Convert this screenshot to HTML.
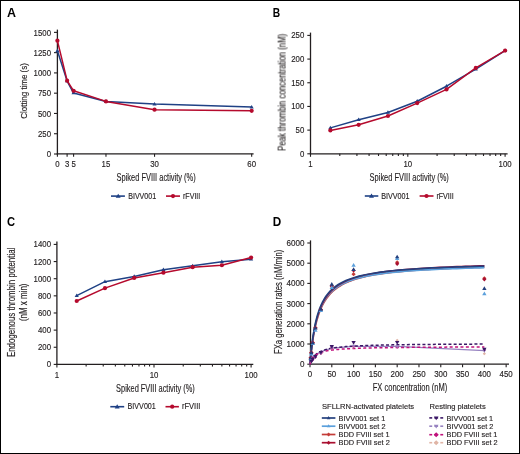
<!DOCTYPE html>
<html><head><meta charset="utf-8"><style>
html,body{margin:0;padding:0;background:#fff;width:520px;height:454px;overflow:hidden;position:relative}
svg{will-change:transform}
</style></head><body>
<svg width="520" height="454" viewBox="0 0 520 454" style="position:absolute;left:0;top:0">
<g style="font-family:'Liberation Sans', sans-serif">
<rect x="0.5" y="0.5" width="519" height="453" fill="#fff" stroke="#000" stroke-width="1"/>
<text x="7.00" y="16.90" font-size="12.4" text-anchor="start" fill="#000" font-weight="bold" textLength="9.00" lengthAdjust="spacingAndGlyphs" >A</text>
<text x="272.80" y="16.90" font-size="12.4" text-anchor="start" fill="#000" font-weight="bold" textLength="7.40" lengthAdjust="spacingAndGlyphs" >B</text>
<text x="7.10" y="226.00" font-size="12.4" text-anchor="start" fill="#000" font-weight="bold" textLength="8.10" lengthAdjust="spacingAndGlyphs" >C</text>
<text x="272.70" y="226.10" font-size="12.4" text-anchor="start" fill="#000" font-weight="bold" textLength="8.50" lengthAdjust="spacingAndGlyphs" >D</text>
<line x1="57.40" y1="29.60" x2="57.40" y2="154.40" stroke="#231f20" stroke-width="1.3" />
<line x1="56.80" y1="153.80" x2="253.60" y2="153.80" stroke="#231f20" stroke-width="1.3" />
<line x1="54.00" y1="154.00" x2="57.40" y2="154.00" stroke="#231f20" stroke-width="1.1" />
<text x="51.00" y="157.30" font-size="8.6" text-anchor="end" fill="#231f20" font-weight="normal" textLength="4.35" lengthAdjust="spacingAndGlyphs" stroke="#231f20" stroke-width="0.15" >0</text>
<line x1="54.00" y1="133.73" x2="57.40" y2="133.73" stroke="#231f20" stroke-width="1.1" />
<text x="51.00" y="137.03" font-size="8.6" text-anchor="end" fill="#231f20" font-weight="normal" textLength="13.05" lengthAdjust="spacingAndGlyphs" stroke="#231f20" stroke-width="0.15" >250</text>
<line x1="54.00" y1="113.46" x2="57.40" y2="113.46" stroke="#231f20" stroke-width="1.1" />
<text x="51.00" y="116.76" font-size="8.6" text-anchor="end" fill="#231f20" font-weight="normal" textLength="13.05" lengthAdjust="spacingAndGlyphs" stroke="#231f20" stroke-width="0.15" >500</text>
<line x1="54.00" y1="93.18" x2="57.40" y2="93.18" stroke="#231f20" stroke-width="1.1" />
<text x="51.00" y="96.48" font-size="8.6" text-anchor="end" fill="#231f20" font-weight="normal" textLength="13.05" lengthAdjust="spacingAndGlyphs" stroke="#231f20" stroke-width="0.15" >750</text>
<line x1="54.00" y1="72.91" x2="57.40" y2="72.91" stroke="#231f20" stroke-width="1.1" />
<text x="51.00" y="76.21" font-size="8.6" text-anchor="end" fill="#231f20" font-weight="normal" textLength="17.40" lengthAdjust="spacingAndGlyphs" stroke="#231f20" stroke-width="0.15" >1000</text>
<line x1="54.00" y1="52.64" x2="57.40" y2="52.64" stroke="#231f20" stroke-width="1.1" />
<text x="51.00" y="55.94" font-size="8.6" text-anchor="end" fill="#231f20" font-weight="normal" textLength="17.40" lengthAdjust="spacingAndGlyphs" stroke="#231f20" stroke-width="0.15" >1250</text>
<line x1="54.00" y1="32.37" x2="57.40" y2="32.37" stroke="#231f20" stroke-width="1.1" />
<text x="51.00" y="35.67" font-size="8.6" text-anchor="end" fill="#231f20" font-weight="normal" textLength="17.40" lengthAdjust="spacingAndGlyphs" stroke="#231f20" stroke-width="0.15" >1500</text>
<line x1="57.40" y1="153.80" x2="57.40" y2="156.80" stroke="#231f20" stroke-width="1.1" />
<text x="57.40" y="166.90" font-size="8.6" text-anchor="middle" fill="#231f20" font-weight="normal" textLength="4.35" lengthAdjust="spacingAndGlyphs" stroke="#231f20" stroke-width="0.15" >0</text>
<line x1="67.11" y1="153.80" x2="67.11" y2="156.80" stroke="#231f20" stroke-width="1.1" />
<text x="67.11" y="166.90" font-size="8.6" text-anchor="middle" fill="#231f20" font-weight="normal" textLength="4.35" lengthAdjust="spacingAndGlyphs" stroke="#231f20" stroke-width="0.15" >3</text>
<line x1="73.59" y1="153.80" x2="73.59" y2="156.80" stroke="#231f20" stroke-width="1.1" />
<text x="73.59" y="166.90" font-size="8.6" text-anchor="middle" fill="#231f20" font-weight="normal" textLength="4.35" lengthAdjust="spacingAndGlyphs" stroke="#231f20" stroke-width="0.15" >5</text>
<line x1="105.97" y1="153.80" x2="105.97" y2="156.80" stroke="#231f20" stroke-width="1.1" />
<text x="105.97" y="166.90" font-size="8.6" text-anchor="middle" fill="#231f20" font-weight="normal" textLength="8.70" lengthAdjust="spacingAndGlyphs" stroke="#231f20" stroke-width="0.15" >15</text>
<line x1="154.54" y1="153.80" x2="154.54" y2="156.80" stroke="#231f20" stroke-width="1.1" />
<text x="154.54" y="166.90" font-size="8.6" text-anchor="middle" fill="#231f20" font-weight="normal" textLength="8.70" lengthAdjust="spacingAndGlyphs" stroke="#231f20" stroke-width="0.15" >30</text>
<line x1="251.68" y1="153.80" x2="251.68" y2="156.80" stroke="#231f20" stroke-width="1.1" />
<text x="251.68" y="166.90" font-size="8.6" text-anchor="middle" fill="#231f20" font-weight="normal" textLength="8.70" lengthAdjust="spacingAndGlyphs" stroke="#231f20" stroke-width="0.15" >60</text>
<text transform="translate(26.80,90.95) rotate(-90)" x="0" y="0" font-size="9.8" text-anchor="middle" fill="#231f20" textLength="55.50" lengthAdjust="spacingAndGlyphs" stroke="#231f20" stroke-width="0.15">Clotting time (s)</text>
<text x="116.60" y="180.60" font-size="10.4" text-anchor="start" fill="#231f20" font-weight="normal" textLength="79.10" lengthAdjust="spacingAndGlyphs" stroke="#231f20" stroke-width="0.15" >Spiked FVIII activity (%)</text>
<polyline points="57.40,50.82 67.11,81.05 73.59,93.02 105.97,101.41 154.54,104.10 251.68,107.12" fill="none" stroke="#1f4185" stroke-width="1.5" stroke-linejoin="round" />
<path d="M57.40,48.62 L59.49,52.14 L55.31,52.14Z" fill="#1f4185"/>
<path d="M67.11,78.85 L69.20,82.37 L65.02,82.37Z" fill="#1f4185"/>
<path d="M73.59,90.82 L75.68,94.34 L71.50,94.34Z" fill="#1f4185"/>
<path d="M105.97,99.21 L108.06,102.73 L103.88,102.73Z" fill="#1f4185"/>
<path d="M154.54,101.90 L156.63,105.42 L152.45,105.42Z" fill="#1f4185"/>
<path d="M251.68,104.92 L253.77,108.44 L249.59,108.44Z" fill="#1f4185"/>
<polyline points="57.40,40.64 67.11,80.64 73.59,90.82 105.97,101.41 154.54,109.64 251.68,110.87" fill="none" stroke="#b50a2d" stroke-width="1.5" stroke-linejoin="round" />
<circle cx="57.40" cy="40.64" r="2.1" fill="#b50a2d"/>
<circle cx="67.11" cy="80.64" r="2.1" fill="#b50a2d"/>
<circle cx="73.59" cy="90.82" r="2.1" fill="#b50a2d"/>
<circle cx="105.97" cy="101.41" r="2.1" fill="#b50a2d"/>
<circle cx="154.54" cy="109.64" r="2.1" fill="#b50a2d"/>
<circle cx="251.68" cy="110.87" r="2.1" fill="#b50a2d"/>
<line x1="111.00" y1="196.10" x2="124.90" y2="196.10" stroke="#1f4185" stroke-width="1.6" />
<path d="M118.20,193.70 L120.67,197.86 L115.73,197.86Z" fill="#1f4185"/>
<text x="128.20" y="199.30" font-size="8.6" text-anchor="start" fill="#231f20" font-weight="normal" textLength="28.00" lengthAdjust="spacingAndGlyphs" stroke="#231f20" stroke-width="0.15" >BIVV001</text>
<line x1="166.00" y1="196.10" x2="180.00" y2="196.10" stroke="#b50a2d" stroke-width="1.6" />
<circle cx="173.00" cy="196.10" r="2.1" fill="#b50a2d"/>
<text x="183.00" y="199.30" font-size="8.6" text-anchor="start" fill="#231f20" font-weight="normal" textLength="17.30" lengthAdjust="spacingAndGlyphs" stroke="#231f20" stroke-width="0.15" >rFVIII</text>
<line x1="310.50" y1="32.60" x2="310.50" y2="154.40" stroke="#231f20" stroke-width="1.3" />
<line x1="309.90" y1="153.80" x2="507.60" y2="153.80" stroke="#231f20" stroke-width="1.3" />
<line x1="307.30" y1="153.80" x2="310.50" y2="153.80" stroke="#231f20" stroke-width="1.1" />
<text x="304.30" y="156.80" font-size="8.6" text-anchor="end" fill="#231f20" font-weight="normal" textLength="4.35" lengthAdjust="spacingAndGlyphs" stroke="#231f20" stroke-width="0.15" >0</text>
<line x1="307.30" y1="130.12" x2="310.50" y2="130.12" stroke="#231f20" stroke-width="1.1" />
<text x="304.30" y="133.12" font-size="8.6" text-anchor="end" fill="#231f20" font-weight="normal" textLength="8.70" lengthAdjust="spacingAndGlyphs" stroke="#231f20" stroke-width="0.15" >50</text>
<line x1="307.30" y1="106.44" x2="310.50" y2="106.44" stroke="#231f20" stroke-width="1.1" />
<text x="304.30" y="109.44" font-size="8.6" text-anchor="end" fill="#231f20" font-weight="normal" textLength="13.05" lengthAdjust="spacingAndGlyphs" stroke="#231f20" stroke-width="0.15" >100</text>
<line x1="307.30" y1="82.76" x2="310.50" y2="82.76" stroke="#231f20" stroke-width="1.1" />
<text x="304.30" y="85.76" font-size="8.6" text-anchor="end" fill="#231f20" font-weight="normal" textLength="13.05" lengthAdjust="spacingAndGlyphs" stroke="#231f20" stroke-width="0.15" >150</text>
<line x1="307.30" y1="59.08" x2="310.50" y2="59.08" stroke="#231f20" stroke-width="1.1" />
<text x="304.30" y="62.08" font-size="8.6" text-anchor="end" fill="#231f20" font-weight="normal" textLength="13.05" lengthAdjust="spacingAndGlyphs" stroke="#231f20" stroke-width="0.15" >200</text>
<line x1="307.30" y1="35.40" x2="310.50" y2="35.40" stroke="#231f20" stroke-width="1.1" />
<text x="304.30" y="38.40" font-size="8.6" text-anchor="end" fill="#231f20" font-weight="normal" textLength="13.05" lengthAdjust="spacingAndGlyphs" stroke="#231f20" stroke-width="0.15" >250</text>
<line x1="310.50" y1="153.80" x2="310.50" y2="156.80" stroke="#231f20" stroke-width="1.1" />
<line x1="339.79" y1="153.80" x2="339.79" y2="156.00" stroke="#231f20" stroke-width="1.1" />
<line x1="356.92" y1="153.80" x2="356.92" y2="156.00" stroke="#231f20" stroke-width="1.1" />
<line x1="369.08" y1="153.80" x2="369.08" y2="156.00" stroke="#231f20" stroke-width="1.1" />
<line x1="378.51" y1="153.80" x2="378.51" y2="156.00" stroke="#231f20" stroke-width="1.1" />
<line x1="386.21" y1="153.80" x2="386.21" y2="156.00" stroke="#231f20" stroke-width="1.1" />
<line x1="392.73" y1="153.80" x2="392.73" y2="156.00" stroke="#231f20" stroke-width="1.1" />
<line x1="398.37" y1="153.80" x2="398.37" y2="156.00" stroke="#231f20" stroke-width="1.1" />
<line x1="403.35" y1="153.80" x2="403.35" y2="156.00" stroke="#231f20" stroke-width="1.1" />
<line x1="407.80" y1="153.80" x2="407.80" y2="156.80" stroke="#231f20" stroke-width="1.1" />
<line x1="437.09" y1="153.80" x2="437.09" y2="156.00" stroke="#231f20" stroke-width="1.1" />
<line x1="454.22" y1="153.80" x2="454.22" y2="156.00" stroke="#231f20" stroke-width="1.1" />
<line x1="466.38" y1="153.80" x2="466.38" y2="156.00" stroke="#231f20" stroke-width="1.1" />
<line x1="475.81" y1="153.80" x2="475.81" y2="156.00" stroke="#231f20" stroke-width="1.1" />
<line x1="483.51" y1="153.80" x2="483.51" y2="156.00" stroke="#231f20" stroke-width="1.1" />
<line x1="490.03" y1="153.80" x2="490.03" y2="156.00" stroke="#231f20" stroke-width="1.1" />
<line x1="495.67" y1="153.80" x2="495.67" y2="156.00" stroke="#231f20" stroke-width="1.1" />
<line x1="500.65" y1="153.80" x2="500.65" y2="156.00" stroke="#231f20" stroke-width="1.1" />
<line x1="505.10" y1="153.80" x2="505.10" y2="156.80" stroke="#231f20" stroke-width="1.1" />
<text x="310.50" y="166.90" font-size="8.6" text-anchor="middle" fill="#231f20" font-weight="normal" textLength="4.35" lengthAdjust="spacingAndGlyphs" stroke="#231f20" stroke-width="0.15" >1</text>
<text x="407.80" y="166.90" font-size="8.6" text-anchor="middle" fill="#231f20" font-weight="normal" textLength="8.70" lengthAdjust="spacingAndGlyphs" stroke="#231f20" stroke-width="0.15" >10</text>
<text x="505.10" y="166.90" font-size="8.6" text-anchor="middle" fill="#231f20" font-weight="normal" textLength="13.05" lengthAdjust="spacingAndGlyphs" stroke="#231f20" stroke-width="0.15" >100</text>
<text transform="translate(285.60,92.40) rotate(-90)" x="0" y="0" font-size="10.0" text-anchor="middle" fill="#231f20" textLength="117.00" lengthAdjust="spacingAndGlyphs" stroke="#231f20" stroke-width="0.15">Peak thrombin concentration (nM)</text>
<text x="369.60" y="180.80" font-size="10.4" text-anchor="start" fill="#231f20" font-weight="normal" textLength="79.20" lengthAdjust="spacingAndGlyphs" stroke="#231f20" stroke-width="0.15" >Spiked FVIII activity (%)</text>
<polyline points="330.36,127.89 358.65,119.80 387.94,112.50 417.23,101.23 446.52,86.22 475.81,69.22 505.10,50.60" fill="none" stroke="#1f4185" stroke-width="1.5" stroke-linejoin="round" />
<path d="M330.36,125.69 L332.45,129.21 L328.27,129.21Z" fill="#1f4185"/>
<path d="M358.65,117.60 L360.74,121.12 L356.56,121.12Z" fill="#1f4185"/>
<path d="M387.94,110.30 L390.03,113.82 L385.85,113.82Z" fill="#1f4185"/>
<path d="M417.23,99.03 L419.32,102.55 L415.14,102.55Z" fill="#1f4185"/>
<path d="M446.52,84.02 L448.61,87.54 L444.43,87.54Z" fill="#1f4185"/>
<path d="M475.81,67.02 L477.90,70.54 L473.72,70.54Z" fill="#1f4185"/>
<path d="M505.10,48.40 L507.19,51.92 L503.01,51.92Z" fill="#1f4185"/>
<polyline points="330.36,130.40 358.65,124.82 387.94,116.01 417.23,103.12 446.52,89.39 475.81,67.89 505.10,50.60" fill="none" stroke="#b50a2d" stroke-width="1.5" stroke-linejoin="round" />
<circle cx="330.36" cy="130.40" r="2.1" fill="#b50a2d"/>
<circle cx="358.65" cy="124.82" r="2.1" fill="#b50a2d"/>
<circle cx="387.94" cy="116.01" r="2.1" fill="#b50a2d"/>
<circle cx="417.23" cy="103.12" r="2.1" fill="#b50a2d"/>
<circle cx="446.52" cy="89.39" r="2.1" fill="#b50a2d"/>
<circle cx="475.81" cy="67.89" r="2.1" fill="#b50a2d"/>
<circle cx="505.10" cy="50.60" r="2.1" fill="#b50a2d"/>
<line x1="364.80" y1="196.00" x2="378.30" y2="196.00" stroke="#1f4185" stroke-width="1.6" />
<path d="M371.50,193.60 L373.97,197.76 L369.03,197.76Z" fill="#1f4185"/>
<text x="381.20" y="199.20" font-size="8.6" text-anchor="start" fill="#231f20" font-weight="normal" textLength="28.40" lengthAdjust="spacingAndGlyphs" stroke="#231f20" stroke-width="0.15" >BIVV001</text>
<line x1="419.60" y1="196.00" x2="433.50" y2="196.00" stroke="#b50a2d" stroke-width="1.6" />
<circle cx="426.50" cy="196.00" r="2.1" fill="#b50a2d"/>
<text x="436.40" y="199.20" font-size="8.6" text-anchor="start" fill="#231f20" font-weight="normal" textLength="17.40" lengthAdjust="spacingAndGlyphs" stroke="#231f20" stroke-width="0.15" >rFVIII</text>
<line x1="56.90" y1="241.40" x2="56.90" y2="365.00" stroke="#231f20" stroke-width="1.3" />
<line x1="56.30" y1="364.40" x2="253.30" y2="364.40" stroke="#231f20" stroke-width="1.3" />
<line x1="53.70" y1="364.40" x2="56.90" y2="364.40" stroke="#231f20" stroke-width="1.1" />
<text x="51.00" y="367.40" font-size="8.6" text-anchor="end" fill="#231f20" font-weight="normal" textLength="4.35" lengthAdjust="spacingAndGlyphs" stroke="#231f20" stroke-width="0.15" >0</text>
<line x1="53.70" y1="347.26" x2="56.90" y2="347.26" stroke="#231f20" stroke-width="1.1" />
<text x="51.00" y="350.26" font-size="8.6" text-anchor="end" fill="#231f20" font-weight="normal" textLength="13.05" lengthAdjust="spacingAndGlyphs" stroke="#231f20" stroke-width="0.15" >200</text>
<line x1="53.70" y1="330.12" x2="56.90" y2="330.12" stroke="#231f20" stroke-width="1.1" />
<text x="51.00" y="333.12" font-size="8.6" text-anchor="end" fill="#231f20" font-weight="normal" textLength="13.05" lengthAdjust="spacingAndGlyphs" stroke="#231f20" stroke-width="0.15" >400</text>
<line x1="53.70" y1="312.98" x2="56.90" y2="312.98" stroke="#231f20" stroke-width="1.1" />
<text x="51.00" y="315.98" font-size="8.6" text-anchor="end" fill="#231f20" font-weight="normal" textLength="13.05" lengthAdjust="spacingAndGlyphs" stroke="#231f20" stroke-width="0.15" >600</text>
<line x1="53.70" y1="295.84" x2="56.90" y2="295.84" stroke="#231f20" stroke-width="1.1" />
<text x="51.00" y="298.84" font-size="8.6" text-anchor="end" fill="#231f20" font-weight="normal" textLength="13.05" lengthAdjust="spacingAndGlyphs" stroke="#231f20" stroke-width="0.15" >800</text>
<line x1="53.70" y1="278.70" x2="56.90" y2="278.70" stroke="#231f20" stroke-width="1.1" />
<text x="51.00" y="281.70" font-size="8.6" text-anchor="end" fill="#231f20" font-weight="normal" textLength="17.40" lengthAdjust="spacingAndGlyphs" stroke="#231f20" stroke-width="0.15" >1000</text>
<line x1="53.70" y1="261.56" x2="56.90" y2="261.56" stroke="#231f20" stroke-width="1.1" />
<text x="51.00" y="264.56" font-size="8.6" text-anchor="end" fill="#231f20" font-weight="normal" textLength="17.40" lengthAdjust="spacingAndGlyphs" stroke="#231f20" stroke-width="0.15" >1200</text>
<line x1="53.70" y1="244.42" x2="56.90" y2="244.42" stroke="#231f20" stroke-width="1.1" />
<text x="51.00" y="247.42" font-size="8.6" text-anchor="end" fill="#231f20" font-weight="normal" textLength="17.40" lengthAdjust="spacingAndGlyphs" stroke="#231f20" stroke-width="0.15" >1400</text>
<line x1="56.90" y1="364.40" x2="56.90" y2="367.40" stroke="#231f20" stroke-width="1.1" />
<line x1="86.13" y1="364.40" x2="86.13" y2="366.60" stroke="#231f20" stroke-width="1.1" />
<line x1="103.23" y1="364.40" x2="103.23" y2="366.60" stroke="#231f20" stroke-width="1.1" />
<line x1="115.36" y1="364.40" x2="115.36" y2="366.60" stroke="#231f20" stroke-width="1.1" />
<line x1="124.77" y1="364.40" x2="124.77" y2="366.60" stroke="#231f20" stroke-width="1.1" />
<line x1="132.46" y1="364.40" x2="132.46" y2="366.60" stroke="#231f20" stroke-width="1.1" />
<line x1="138.96" y1="364.40" x2="138.96" y2="366.60" stroke="#231f20" stroke-width="1.1" />
<line x1="144.59" y1="364.40" x2="144.59" y2="366.60" stroke="#231f20" stroke-width="1.1" />
<line x1="149.56" y1="364.40" x2="149.56" y2="366.60" stroke="#231f20" stroke-width="1.1" />
<line x1="154.00" y1="364.40" x2="154.00" y2="367.40" stroke="#231f20" stroke-width="1.1" />
<line x1="183.23" y1="364.40" x2="183.23" y2="366.60" stroke="#231f20" stroke-width="1.1" />
<line x1="200.33" y1="364.40" x2="200.33" y2="366.60" stroke="#231f20" stroke-width="1.1" />
<line x1="212.46" y1="364.40" x2="212.46" y2="366.60" stroke="#231f20" stroke-width="1.1" />
<line x1="221.87" y1="364.40" x2="221.87" y2="366.60" stroke="#231f20" stroke-width="1.1" />
<line x1="229.56" y1="364.40" x2="229.56" y2="366.60" stroke="#231f20" stroke-width="1.1" />
<line x1="236.06" y1="364.40" x2="236.06" y2="366.60" stroke="#231f20" stroke-width="1.1" />
<line x1="241.69" y1="364.40" x2="241.69" y2="366.60" stroke="#231f20" stroke-width="1.1" />
<line x1="246.66" y1="364.40" x2="246.66" y2="366.60" stroke="#231f20" stroke-width="1.1" />
<line x1="251.10" y1="364.40" x2="251.10" y2="367.40" stroke="#231f20" stroke-width="1.1" />
<text x="56.90" y="377.60" font-size="8.6" text-anchor="middle" fill="#231f20" font-weight="normal" textLength="4.35" lengthAdjust="spacingAndGlyphs" stroke="#231f20" stroke-width="0.15" >1</text>
<text x="154.00" y="377.60" font-size="8.6" text-anchor="middle" fill="#231f20" font-weight="normal" textLength="8.70" lengthAdjust="spacingAndGlyphs" stroke="#231f20" stroke-width="0.15" >10</text>
<text x="251.10" y="377.60" font-size="8.6" text-anchor="middle" fill="#231f20" font-weight="normal" textLength="13.05" lengthAdjust="spacingAndGlyphs" stroke="#231f20" stroke-width="0.15" >100</text>
<text transform="translate(15.40,302.40) rotate(-90)" x="0" y="0" font-size="10.0" text-anchor="middle" fill="#231f20" textLength="109.40" lengthAdjust="spacingAndGlyphs" stroke="#231f20" stroke-width="0.15">Endogenous thrombin potential</text>
<text transform="translate(27.30,302.30) rotate(-90)" x="0" y="0" font-size="10.0" text-anchor="middle" fill="#231f20" textLength="37.60" lengthAdjust="spacingAndGlyphs" stroke="#231f20" stroke-width="0.15">(nM x min)</text>
<text x="116.10" y="391.60" font-size="10.2" text-anchor="start" fill="#231f20" font-weight="normal" textLength="78.70" lengthAdjust="spacingAndGlyphs" stroke="#231f20" stroke-width="0.15" >Spiked FVIII activity (%)</text>
<polyline points="76.72,295.58 104.95,281.70 134.18,276.47 163.41,269.70 192.64,265.84 221.87,261.82 251.10,259.16" fill="none" stroke="#1f4185" stroke-width="1.5" stroke-linejoin="round" />
<path d="M76.72,293.38 L78.81,296.90 L74.63,296.90Z" fill="#1f4185"/>
<path d="M104.95,279.50 L107.04,283.02 L102.86,283.02Z" fill="#1f4185"/>
<path d="M134.18,274.27 L136.27,277.79 L132.09,277.79Z" fill="#1f4185"/>
<path d="M163.41,267.50 L165.50,271.02 L161.32,271.02Z" fill="#1f4185"/>
<path d="M192.64,263.64 L194.73,267.16 L190.55,267.16Z" fill="#1f4185"/>
<path d="M221.87,259.62 L223.96,263.14 L219.78,263.14Z" fill="#1f4185"/>
<path d="M251.10,256.96 L253.19,260.48 L249.01,260.48Z" fill="#1f4185"/>
<polyline points="76.72,300.98 104.95,288.13 134.18,277.93 163.41,272.70 192.64,267.22 221.87,265.25 251.10,257.53" fill="none" stroke="#b50a2d" stroke-width="1.5" stroke-linejoin="round" />
<circle cx="76.72" cy="300.98" r="2.1" fill="#b50a2d"/>
<circle cx="104.95" cy="288.13" r="2.1" fill="#b50a2d"/>
<circle cx="134.18" cy="277.93" r="2.1" fill="#b50a2d"/>
<circle cx="163.41" cy="272.70" r="2.1" fill="#b50a2d"/>
<circle cx="192.64" cy="267.22" r="2.1" fill="#b50a2d"/>
<circle cx="221.87" cy="265.25" r="2.1" fill="#b50a2d"/>
<circle cx="251.10" cy="257.53" r="2.1" fill="#b50a2d"/>
<line x1="110.30" y1="406.70" x2="124.20" y2="406.70" stroke="#1f4185" stroke-width="1.6" />
<path d="M117.20,404.30 L119.67,408.46 L114.73,408.46Z" fill="#1f4185"/>
<text x="127.60" y="409.20" font-size="8.6" text-anchor="start" fill="#231f20" font-weight="normal" textLength="28.20" lengthAdjust="spacingAndGlyphs" stroke="#231f20" stroke-width="0.15" >BIVV001</text>
<line x1="165.50" y1="406.70" x2="178.90" y2="406.70" stroke="#b50a2d" stroke-width="1.6" />
<circle cx="172.20" cy="406.70" r="2.1" fill="#b50a2d"/>
<text x="181.90" y="409.20" font-size="8.6" text-anchor="start" fill="#231f20" font-weight="normal" textLength="18.50" lengthAdjust="spacingAndGlyphs" stroke="#231f20" stroke-width="0.15" >rFVIII</text>
<line x1="310.50" y1="240.40" x2="310.50" y2="364.80" stroke="#231f20" stroke-width="1.3" />
<line x1="309.90" y1="364.20" x2="509.00" y2="364.20" stroke="#231f20" stroke-width="1.3" />
<line x1="307.30" y1="364.20" x2="310.50" y2="364.20" stroke="#231f20" stroke-width="1.1" />
<text x="304.40" y="367.20" font-size="8.6" text-anchor="end" fill="#231f20" font-weight="normal" textLength="4.50" lengthAdjust="spacingAndGlyphs" stroke="#231f20" stroke-width="0.15" >0</text>
<line x1="307.30" y1="344.00" x2="310.50" y2="344.00" stroke="#231f20" stroke-width="1.1" />
<text x="304.40" y="347.00" font-size="8.6" text-anchor="end" fill="#231f20" font-weight="normal" textLength="18.00" lengthAdjust="spacingAndGlyphs" stroke="#231f20" stroke-width="0.15" >1000</text>
<line x1="307.30" y1="323.80" x2="310.50" y2="323.80" stroke="#231f20" stroke-width="1.1" />
<text x="304.40" y="326.80" font-size="8.6" text-anchor="end" fill="#231f20" font-weight="normal" textLength="18.00" lengthAdjust="spacingAndGlyphs" stroke="#231f20" stroke-width="0.15" >2000</text>
<line x1="307.30" y1="303.60" x2="310.50" y2="303.60" stroke="#231f20" stroke-width="1.1" />
<text x="304.40" y="306.60" font-size="8.6" text-anchor="end" fill="#231f20" font-weight="normal" textLength="18.00" lengthAdjust="spacingAndGlyphs" stroke="#231f20" stroke-width="0.15" >3000</text>
<line x1="307.30" y1="283.40" x2="310.50" y2="283.40" stroke="#231f20" stroke-width="1.1" />
<text x="304.40" y="286.40" font-size="8.6" text-anchor="end" fill="#231f20" font-weight="normal" textLength="18.00" lengthAdjust="spacingAndGlyphs" stroke="#231f20" stroke-width="0.15" >4000</text>
<line x1="307.30" y1="263.20" x2="310.50" y2="263.20" stroke="#231f20" stroke-width="1.1" />
<text x="304.40" y="266.20" font-size="8.6" text-anchor="end" fill="#231f20" font-weight="normal" textLength="18.00" lengthAdjust="spacingAndGlyphs" stroke="#231f20" stroke-width="0.15" >5000</text>
<line x1="307.30" y1="243.00" x2="310.50" y2="243.00" stroke="#231f20" stroke-width="1.1" />
<text x="304.40" y="246.00" font-size="8.6" text-anchor="end" fill="#231f20" font-weight="normal" textLength="18.00" lengthAdjust="spacingAndGlyphs" stroke="#231f20" stroke-width="0.15" >6000</text>
<line x1="310.00" y1="364.20" x2="310.00" y2="367.20" stroke="#231f20" stroke-width="1.1" />
<text x="310.00" y="377.30" font-size="8.6" text-anchor="middle" fill="#231f20" font-weight="normal" textLength="4.40" lengthAdjust="spacingAndGlyphs" stroke="#231f20" stroke-width="0.15" >0</text>
<line x1="331.80" y1="364.20" x2="331.80" y2="367.20" stroke="#231f20" stroke-width="1.1" />
<text x="331.80" y="377.30" font-size="8.6" text-anchor="middle" fill="#231f20" font-weight="normal" textLength="8.80" lengthAdjust="spacingAndGlyphs" stroke="#231f20" stroke-width="0.15" >50</text>
<line x1="353.59" y1="364.20" x2="353.59" y2="367.20" stroke="#231f20" stroke-width="1.1" />
<text x="353.59" y="377.30" font-size="8.6" text-anchor="middle" fill="#231f20" font-weight="normal" textLength="13.20" lengthAdjust="spacingAndGlyphs" stroke="#231f20" stroke-width="0.15" >100</text>
<line x1="375.38" y1="364.20" x2="375.38" y2="367.20" stroke="#231f20" stroke-width="1.1" />
<text x="375.38" y="377.30" font-size="8.6" text-anchor="middle" fill="#231f20" font-weight="normal" textLength="13.20" lengthAdjust="spacingAndGlyphs" stroke="#231f20" stroke-width="0.15" >150</text>
<line x1="397.18" y1="364.20" x2="397.18" y2="367.20" stroke="#231f20" stroke-width="1.1" />
<text x="397.18" y="377.30" font-size="8.6" text-anchor="middle" fill="#231f20" font-weight="normal" textLength="13.20" lengthAdjust="spacingAndGlyphs" stroke="#231f20" stroke-width="0.15" >200</text>
<line x1="418.98" y1="364.20" x2="418.98" y2="367.20" stroke="#231f20" stroke-width="1.1" />
<text x="418.98" y="377.30" font-size="8.6" text-anchor="middle" fill="#231f20" font-weight="normal" textLength="13.20" lengthAdjust="spacingAndGlyphs" stroke="#231f20" stroke-width="0.15" >250</text>
<line x1="440.77" y1="364.20" x2="440.77" y2="367.20" stroke="#231f20" stroke-width="1.1" />
<text x="440.77" y="377.30" font-size="8.6" text-anchor="middle" fill="#231f20" font-weight="normal" textLength="13.20" lengthAdjust="spacingAndGlyphs" stroke="#231f20" stroke-width="0.15" >300</text>
<line x1="462.56" y1="364.20" x2="462.56" y2="367.20" stroke="#231f20" stroke-width="1.1" />
<text x="462.56" y="377.30" font-size="8.6" text-anchor="middle" fill="#231f20" font-weight="normal" textLength="13.20" lengthAdjust="spacingAndGlyphs" stroke="#231f20" stroke-width="0.15" >350</text>
<line x1="484.36" y1="364.20" x2="484.36" y2="367.20" stroke="#231f20" stroke-width="1.1" />
<text x="484.36" y="377.30" font-size="8.6" text-anchor="middle" fill="#231f20" font-weight="normal" textLength="13.20" lengthAdjust="spacingAndGlyphs" stroke="#231f20" stroke-width="0.15" >400</text>
<line x1="506.15" y1="364.20" x2="506.15" y2="367.20" stroke="#231f20" stroke-width="1.1" />
<text x="506.15" y="377.30" font-size="8.6" text-anchor="middle" fill="#231f20" font-weight="normal" textLength="13.20" lengthAdjust="spacingAndGlyphs" stroke="#231f20" stroke-width="0.15" >450</text>
<text transform="translate(281.50,301.80) rotate(-90)" x="0" y="0" font-size="10.0" text-anchor="middle" fill="#231f20" textLength="104.40" lengthAdjust="spacingAndGlyphs" stroke="#231f20" stroke-width="0.15">FXa generation rates (nM/min)</text>
<text x="372.70" y="391.00" font-size="10.0" text-anchor="start" fill="#231f20" font-weight="normal" textLength="74.60" lengthAdjust="spacingAndGlyphs" stroke="#231f20" stroke-width="0.15" >FX concentration (nM)</text>
<polyline points="310.00,364.20 310.01,364.07 310.05,363.62 310.13,362.80 310.24,361.60 310.39,360.02 310.58,358.08 310.82,355.81 311.10,353.25 311.43,350.45 311.80,347.45 312.22,344.31 312.68,341.06 313.20,337.76 313.77,334.44 314.39,331.14 315.05,327.89 315.78,324.72 316.55,321.64 317.38,318.66 318.26,315.80 319.19,313.06 320.19,310.45 321.23,307.97 322.33,305.62 323.49,303.40 324.71,301.30 325.98,299.31 327.31,297.44 328.70,295.68 330.15,294.03 331.66,292.47 333.23,291.00 334.85,289.62 336.54,288.32 338.29,287.10 340.10,285.95 341.97,284.87 343.90,283.85 345.89,282.89 347.95,281.98 350.07,281.13 352.25,280.32 354.49,279.56 356.80,278.84 359.17,278.17 361.61,277.52 364.11,276.92 366.67,276.34 369.30,275.80 372.00,275.28 374.76,274.79 377.59,274.32 380.48,273.88 383.44,273.46 386.46,273.06 389.55,272.68 392.71,272.32 395.94,271.97 399.23,271.64 402.59,271.33 406.02,271.03 409.52,270.75 413.09,270.47 416.72,270.21 420.42,269.96 424.19,269.72 428.04,269.49 431.95,269.28 435.93,269.07 439.98,268.86 444.10,268.67 448.29,268.49 452.55,268.31 456.88,268.14 461.28,267.97 465.75,267.81 470.30,267.66 474.91,267.52 479.60,267.38 484.36,267.24" fill="none" stroke="#c43c38" stroke-width="1.6" stroke-linejoin="round" />
<polyline points="310.00,364.20 310.01,364.07 310.05,363.58 310.13,362.71 310.24,361.43 310.39,359.74 310.58,357.69 310.82,355.29 311.10,352.60 311.43,349.66 311.80,346.52 312.22,343.25 312.68,339.90 313.20,336.50 313.77,333.10 314.39,329.73 315.05,326.44 315.78,323.23 316.55,320.13 317.38,317.15 318.26,314.30 319.19,311.58 320.19,309.00 321.23,306.56 322.33,304.25 323.49,302.07 324.71,300.02 325.98,298.09 327.31,296.28 328.70,294.58 330.15,292.98 331.66,291.48 333.23,290.07 334.85,288.74 336.54,287.50 338.29,286.33 340.10,285.24 341.97,284.21 343.90,283.24 345.89,282.33 347.95,281.47 350.07,280.66 352.25,279.90 354.49,279.18 356.80,278.50 359.17,277.86 361.61,277.26 364.11,276.69 366.67,276.14 369.30,275.63 372.00,275.15 374.76,274.69 377.59,274.25 380.48,273.84 383.44,273.44 386.46,273.07 389.55,272.71 392.71,272.37 395.94,272.05 399.23,271.74 402.59,271.45 406.02,271.17 409.52,270.91 413.09,270.65 416.72,270.41 420.42,270.18 424.19,269.95 428.04,269.74 431.95,269.54 435.93,269.34 439.98,269.15 444.10,268.97 448.29,268.80 452.55,268.64 456.88,268.48 461.28,268.32 465.75,268.18 470.30,268.04 474.91,267.90 479.60,267.77 484.36,267.64" fill="none" stroke="#5ba0dc" stroke-width="1.8" stroke-linejoin="round" />
<polyline points="310.00,364.20 310.01,364.07 310.05,363.59 310.13,362.73 310.24,361.47 310.39,359.81 310.58,357.78 310.82,355.41 311.10,352.75 311.43,349.83 311.80,346.71 312.22,343.45 312.68,340.09 313.20,336.68 313.77,333.26 314.39,329.87 315.05,326.54 315.78,323.29 316.55,320.14 317.38,317.10 318.26,314.19 319.19,311.41 320.19,308.77 321.23,306.26 322.33,303.89 323.49,301.64 324.71,299.52 325.98,297.53 327.31,295.65 328.70,293.88 330.15,292.22 331.66,290.66 333.23,289.19 334.85,287.81 336.54,286.52 338.29,285.30 340.10,284.15 341.97,283.07 343.90,282.06 345.89,281.10 347.95,280.20 350.07,279.35 352.25,278.55 354.49,277.80 356.80,277.09 359.17,276.41 361.61,275.78 364.11,275.17 366.67,274.60 369.30,274.06 372.00,273.55 374.76,273.07 377.59,272.61 380.48,272.17 383.44,271.75 386.46,271.36 389.55,270.98 392.71,270.63 395.94,270.28 399.23,269.96 402.59,269.65 406.02,269.35 409.52,269.07 413.09,268.80 416.72,268.55 420.42,268.30 424.19,268.06 428.04,267.84 431.95,267.62 435.93,267.42 439.98,267.22 444.10,267.03 448.29,266.84 452.55,266.67 456.88,266.50 461.28,266.34 465.75,266.18 470.30,266.03 474.91,265.89 479.60,265.75 484.36,265.62" fill="none" stroke="#a90f30" stroke-width="1.3" stroke-linejoin="round" />
<polyline points="310.00,364.20 310.01,364.06 310.05,363.55 310.13,362.63 310.24,361.28 310.39,359.52 310.58,357.37 310.82,354.86 311.10,352.05 311.43,348.98 311.80,345.73 312.22,342.33 312.68,338.86 313.20,335.35 313.77,331.85 314.39,328.40 315.05,325.02 315.78,321.74 316.55,318.58 317.38,315.55 318.26,312.65 319.19,309.90 320.19,307.29 321.23,304.82 322.33,302.50 323.49,300.31 324.71,298.25 325.98,296.31 327.31,294.50 328.70,292.79 330.15,291.19 331.66,289.69 333.23,288.29 334.85,286.97 336.54,285.73 338.29,284.57 340.10,283.48 341.97,282.46 343.90,281.50 345.89,280.59 347.95,279.74 350.07,278.94 352.25,278.19 354.49,277.48 356.80,276.81 359.17,276.17 361.61,275.58 364.11,275.01 366.67,274.48 369.30,273.97 372.00,273.49 374.76,273.04 377.59,272.61 380.48,272.20 383.44,271.81 386.46,271.44 389.55,271.09 392.71,270.76 395.94,270.44 399.23,270.14 402.59,269.85 406.02,269.58 409.52,269.32 413.09,269.07 416.72,268.83 420.42,268.60 424.19,268.38 428.04,268.17 431.95,267.97 435.93,267.78 439.98,267.59 444.10,267.42 448.29,267.25 452.55,267.09 456.88,266.93 461.28,266.78 465.75,266.64 470.30,266.50 474.91,266.36 479.60,266.24 484.36,266.11" fill="none" stroke="#24407e" stroke-width="1.7" stroke-linejoin="round" />
<path d="M310.68,355.64 L312.78,357.74 L310.68,359.84 L308.58,357.74Z" fill="#c43c38"/>
<path d="M311.36,350.38 L313.46,352.48 L311.36,354.58 L309.26,352.48Z" fill="#c43c38"/>
<path d="M312.72,340.49 L314.82,342.59 L312.72,344.69 L310.62,342.59Z" fill="#c43c38"/>
<path d="M315.45,325.74 L317.55,327.84 L315.45,329.94 L313.35,327.84Z" fill="#c43c38"/>
<path d="M320.90,307.56 L323.00,309.66 L320.90,311.76 L318.80,309.66Z" fill="#c43c38"/>
<path d="M331.80,284.33 L333.90,286.43 L331.80,288.53 L329.69,286.43Z" fill="#c43c38"/>
<path d="M353.59,272.11 L355.69,274.21 L353.59,276.31 L351.49,274.21Z" fill="#c43c38"/>
<path d="M397.18,260.19 L399.28,262.29 L397.18,264.39 L395.08,262.29Z" fill="#c43c38"/>
<path d="M484.36,276.25 L486.46,278.35 L484.36,280.45 L482.26,278.35Z" fill="#c43c38"/>
<path d="M310.68,355.84 L312.78,357.94 L310.68,360.04 L308.58,357.94Z" fill="#a90f30"/>
<path d="M311.36,350.59 L313.46,352.69 L311.36,354.79 L309.26,352.69Z" fill="#a90f30"/>
<path d="M312.72,340.69 L314.82,342.79 L312.72,344.89 L310.62,342.79Z" fill="#a90f30"/>
<path d="M315.45,325.94 L317.55,328.04 L315.45,330.14 L313.35,328.04Z" fill="#a90f30"/>
<path d="M320.90,307.56 L323.00,309.66 L320.90,311.76 L318.80,309.66Z" fill="#a90f30"/>
<path d="M331.80,283.72 L333.90,285.82 L331.80,287.92 L329.69,285.82Z" fill="#a90f30"/>
<path d="M353.59,268.37 L355.69,270.47 L353.59,272.57 L351.49,270.47Z" fill="#a90f30"/>
<path d="M397.18,261.71 L399.28,263.81 L397.18,265.91 L395.08,263.81Z" fill="#a90f30"/>
<path d="M484.36,277.26 L486.46,279.36 L484.36,281.46 L482.26,279.36Z" fill="#a90f30"/>
<path d="M310.68,356.65 L312.87,360.33 L308.50,360.33Z" fill="#5ba0dc"/>
<path d="M311.36,351.90 L313.55,355.58 L309.18,355.58Z" fill="#5ba0dc"/>
<path d="M312.72,341.40 L314.91,345.08 L310.54,345.08Z" fill="#5ba0dc"/>
<path d="M315.45,328.17 L317.63,331.85 L313.26,331.85Z" fill="#5ba0dc"/>
<path d="M320.90,308.37 L323.08,312.05 L318.71,312.05Z" fill="#5ba0dc"/>
<path d="M331.80,285.34 L333.98,289.02 L329.61,289.02Z" fill="#5ba0dc"/>
<path d="M353.59,263.12 L355.78,266.80 L351.41,266.80Z" fill="#5ba0dc"/>
<path d="M397.18,256.25 L399.37,259.93 L395.00,259.93Z" fill="#5ba0dc"/>
<path d="M484.36,291.50 L486.55,295.18 L482.18,295.18Z" fill="#5ba0dc"/>
<path d="M310.68,355.84 L312.87,359.52 L308.50,359.52Z" fill="#24407e"/>
<path d="M311.36,350.59 L313.55,354.27 L309.18,354.27Z" fill="#24407e"/>
<path d="M312.72,340.69 L314.91,344.37 L310.54,344.37Z" fill="#24407e"/>
<path d="M315.45,325.94 L317.63,329.62 L313.26,329.62Z" fill="#24407e"/>
<path d="M320.90,306.96 L323.08,310.64 L318.71,310.64Z" fill="#24407e"/>
<path d="M331.80,282.11 L333.98,285.79 L329.61,285.79Z" fill="#24407e"/>
<path d="M353.59,267.36 L355.78,271.04 L351.41,271.04Z" fill="#24407e"/>
<path d="M397.18,254.64 L399.37,258.32 L395.00,258.32Z" fill="#24407e"/>
<path d="M484.36,286.35 L486.55,290.03 L482.18,290.03Z" fill="#24407e"/>
<polyline points="310.00,364.20 310.68,361.17 311.36,359.15 312.72,356.52 315.45,354.71 320.90,351.68 331.80,348.04 353.59,346.42 397.18,346.42 484.36,350.67" fill="none" stroke="#9682c0" stroke-width="1.3" stroke-linejoin="round" />
<polyline points="310.00,364.20 310.01,364.16 310.05,364.04 310.13,363.81 310.24,363.48 310.39,363.06 310.58,362.54 310.82,361.94 311.10,361.27 311.43,360.56 311.80,359.81 312.22,359.04 312.68,358.26 313.20,357.48 313.77,356.71 314.39,355.97 315.05,355.25 315.78,354.56 316.55,353.91 317.38,353.29 318.26,352.70 319.19,352.15 320.19,351.63 321.23,351.15 322.33,350.69 323.49,350.27 324.71,349.87 325.98,349.51 327.31,349.16 328.70,348.84 330.15,348.54 331.66,348.26 333.23,348.00 334.85,347.76 336.54,347.54 338.29,347.32 340.10,347.13 341.97,346.94 343.90,346.77 345.89,346.61 347.95,346.45 350.07,346.31 352.25,346.18 354.49,346.05 356.80,345.93 359.17,345.82 361.61,345.71 364.11,345.61 366.67,345.52 369.30,345.43 372.00,345.35 374.76,345.27 377.59,345.19 380.48,345.12 383.44,345.05 386.46,344.99 389.55,344.93 392.71,344.87 395.94,344.82 399.23,344.76 402.59,344.71 406.02,344.67 409.52,344.62 413.09,344.58 416.72,344.54 420.42,344.50 424.19,344.46 428.04,344.42 431.95,344.39 435.93,344.36 439.98,344.33 444.10,344.30 448.29,344.27 452.55,344.24 456.88,344.21 461.28,344.19 465.75,344.16 470.30,344.14 474.91,344.12 479.60,344.09 484.36,344.07" fill="none" stroke="#3b1766" stroke-width="1.5" stroke-linejoin="round" stroke-dasharray="3,2.2"/>
<polyline points="310.00,364.20 310.01,364.16 310.05,364.04 310.13,363.81 310.24,363.48 310.39,363.05 310.58,362.54 310.82,361.95 311.10,361.31 311.43,360.63 311.80,359.92 312.22,359.20 312.68,358.49 313.20,357.78 313.77,357.10 314.39,356.44 315.05,355.82 315.78,355.23 316.55,354.67 317.38,354.15 318.26,353.66 319.19,353.20 320.19,352.78 321.23,352.38 322.33,352.02 323.49,351.68 324.71,351.37 325.98,351.08 327.31,350.81 328.70,350.56 330.15,350.33 331.66,350.11 333.23,349.91 334.85,349.72 336.54,349.55 338.29,349.39 340.10,349.24 341.97,349.10 343.90,348.97 345.89,348.85 347.95,348.73 350.07,348.63 352.25,348.53 354.49,348.43 356.80,348.34 359.17,348.26 361.61,348.18 364.11,348.11 366.67,348.04 369.30,347.97 372.00,347.91 374.76,347.85 377.59,347.80 380.48,347.75 383.44,347.70 386.46,347.65 389.55,347.61 392.71,347.56 395.94,347.52 399.23,347.49 402.59,347.45 406.02,347.41 409.52,347.38 413.09,347.35 416.72,347.32 420.42,347.29 424.19,347.26 428.04,347.24 431.95,347.21 435.93,347.19 439.98,347.17 444.10,347.14 448.29,347.12 452.55,347.10 456.88,347.08 461.28,347.07 465.75,347.05 470.30,347.03 474.91,347.01 479.60,347.00 484.36,346.98" fill="none" stroke="#c0127c" stroke-width="1.5" stroke-linejoin="round" stroke-dasharray="3,2.4"/>
<path d="M311.36,359.97 L312.96,361.57 L311.36,363.17 L309.76,361.57Z" fill="#e0b5a6"/>
<path d="M312.72,358.16 L314.32,359.76 L312.72,361.36 L311.12,359.76Z" fill="#e0b5a6"/>
<path d="M315.45,355.53 L317.05,357.13 L315.45,358.73 L313.85,357.13Z" fill="#e0b5a6"/>
<path d="M320.90,351.89 L322.50,353.49 L320.90,355.09 L319.30,353.49Z" fill="#e0b5a6"/>
<path d="M331.80,346.64 L333.40,348.24 L331.80,349.84 L330.19,348.24Z" fill="#e0b5a6"/>
<path d="M353.59,345.23 L355.19,346.83 L353.59,348.43 L351.99,346.83Z" fill="#e0b5a6"/>
<path d="M397.18,338.76 L398.78,340.36 L397.18,341.96 L395.58,340.36Z" fill="#e0b5a6"/>
<path d="M484.36,352.10 L485.96,353.70 L484.36,355.30 L482.76,353.70Z" fill="#e0b5a6"/>
<path d="M311.36,359.67 L313.06,361.37 L311.36,363.07 L309.66,361.37Z" fill="#c0127c"/>
<path d="M312.72,357.85 L314.42,359.55 L312.72,361.25 L311.02,359.55Z" fill="#c0127c"/>
<path d="M315.45,355.23 L317.15,356.93 L315.45,358.63 L313.75,356.93Z" fill="#c0127c"/>
<path d="M320.90,351.59 L322.60,353.29 L320.90,354.99 L319.20,353.29Z" fill="#c0127c"/>
<path d="M331.80,346.34 L333.50,348.04 L331.80,349.74 L330.10,348.04Z" fill="#c0127c"/>
<path d="M353.59,344.72 L355.29,346.42 L353.59,348.12 L351.89,346.42Z" fill="#c0127c"/>
<path d="M397.18,345.33 L398.88,347.03 L397.18,348.73 L395.48,347.03Z" fill="#c0127c"/>
<path d="M484.36,348.36 L486.06,350.06 L484.36,351.76 L482.66,350.06Z" fill="#c0127c"/>
<path d="M311.36,363.37 L313.26,360.17 L309.46,360.17Z" fill="#9682c0"/>
<path d="M312.72,361.35 L314.62,358.15 L310.82,358.15Z" fill="#9682c0"/>
<path d="M315.45,358.73 L317.35,355.53 L313.55,355.53Z" fill="#9682c0"/>
<path d="M320.90,354.89 L322.80,351.69 L319.00,351.69Z" fill="#9682c0"/>
<path d="M331.80,349.43 L333.69,346.23 L329.90,346.23Z" fill="#9682c0"/>
<path d="M353.59,348.02 L355.49,344.82 L351.69,344.82Z" fill="#9682c0"/>
<path d="M397.18,348.42 L399.08,345.22 L395.28,345.22Z" fill="#9682c0"/>
<path d="M484.36,352.67 L486.26,349.47 L482.46,349.47Z" fill="#9682c0"/>
<path d="M311.36,363.47 L313.55,359.79 L309.18,359.79Z" fill="#3b1766"/>
<path d="M312.72,361.45 L314.91,357.77 L310.54,357.77Z" fill="#3b1766"/>
<path d="M315.45,358.70 L317.63,355.02 L313.26,355.02Z" fill="#3b1766"/>
<path d="M320.90,354.60 L323.08,350.92 L318.71,350.92Z" fill="#3b1766"/>
<path d="M331.80,348.80 L333.98,345.12 L329.61,345.12Z" fill="#3b1766"/>
<path d="M353.59,344.68 L355.78,341.00 L351.41,341.00Z" fill="#3b1766"/>
<path d="M397.18,344.68 L399.37,341.00 L395.00,341.00Z" fill="#3b1766"/>
<path d="M484.36,351.55 L486.55,347.87 L482.18,347.87Z" fill="#3b1766"/>
<text x="322.00" y="409.20" font-size="7.8" text-anchor="start" fill="#231f20" font-weight="normal" textLength="92.10" lengthAdjust="spacingAndGlyphs" stroke="#231f20" stroke-width="0.15" >SFLLRN-activated platelets</text>
<line x1="321.80" y1="418.00" x2="335.40" y2="418.00" stroke="#24407e" stroke-width="1.7" />
<path d="M328.60,416.10 L330.41,419.14 L326.80,419.14Z" fill="#24407e"/>
<text x="338.60" y="420.70" font-size="7.6" text-anchor="start" fill="#231f20" font-weight="normal" textLength="46.60" lengthAdjust="spacingAndGlyphs" stroke="#231f20" stroke-width="0.15" >BIVV001 set 1</text>
<line x1="321.80" y1="426.20" x2="335.40" y2="426.20" stroke="#5ba0dc" stroke-width="1.7" />
<path d="M328.60,424.30 L330.41,427.34 L326.80,427.34Z" fill="#5ba0dc"/>
<text x="338.60" y="428.90" font-size="7.6" text-anchor="start" fill="#231f20" font-weight="normal" textLength="46.90" lengthAdjust="spacingAndGlyphs" stroke="#231f20" stroke-width="0.15" >BIVV001 set 2</text>
<line x1="321.80" y1="434.50" x2="335.40" y2="434.50" stroke="#c43c38" stroke-width="1.7" />
<path d="M328.60,432.50 L330.60,434.50 L328.60,436.50 L326.60,434.50Z" fill="#c43c38"/>
<text x="338.60" y="437.20" font-size="7.6" text-anchor="start" fill="#231f20" font-weight="normal" textLength="50.90" lengthAdjust="spacingAndGlyphs" stroke="#231f20" stroke-width="0.15" >BDD FVIII set 1</text>
<line x1="321.80" y1="442.70" x2="335.40" y2="442.70" stroke="#a90f30" stroke-width="1.7" />
<path d="M328.60,440.70 L330.60,442.70 L328.60,444.70 L326.60,442.70Z" fill="#a90f30"/>
<text x="338.60" y="445.40" font-size="7.6" text-anchor="start" fill="#231f20" font-weight="normal" textLength="51.20" lengthAdjust="spacingAndGlyphs" stroke="#231f20" stroke-width="0.15" >BDD FVIII set 2</text>
<text x="429.60" y="409.20" font-size="7.8" text-anchor="start" fill="#231f20" font-weight="normal" textLength="56.20" lengthAdjust="spacingAndGlyphs" stroke="#231f20" stroke-width="0.15" >Resting platelets</text>
<line x1="429.30" y1="417.90" x2="432.20" y2="417.90" stroke="#3b1766" stroke-width="1.6" />
<line x1="434.40" y1="417.90" x2="438.10" y2="417.90" stroke="#3b1766" stroke-width="1.6" />
<line x1="440.30" y1="417.90" x2="443.20" y2="417.90" stroke="#3b1766" stroke-width="1.6" />
<path d="M436.20,420.30 L438.48,416.46 L433.92,416.46Z" fill="#3b1766"/>
<text x="446.50" y="420.60" font-size="7.6" text-anchor="start" fill="#231f20" font-weight="normal" textLength="46.60" lengthAdjust="spacingAndGlyphs" stroke="#231f20" stroke-width="0.15" >BIVV001 set 1</text>
<line x1="429.30" y1="426.20" x2="432.20" y2="426.20" stroke="#9682c0" stroke-width="1.6" />
<line x1="434.40" y1="426.20" x2="438.10" y2="426.20" stroke="#9682c0" stroke-width="1.6" />
<line x1="440.30" y1="426.20" x2="443.20" y2="426.20" stroke="#9682c0" stroke-width="1.6" />
<path d="M436.20,428.60 L438.48,424.76 L433.92,424.76Z" fill="#9682c0"/>
<text x="446.50" y="428.90" font-size="7.6" text-anchor="start" fill="#231f20" font-weight="normal" textLength="46.90" lengthAdjust="spacingAndGlyphs" stroke="#231f20" stroke-width="0.15" >BIVV001 set 2</text>
<line x1="429.30" y1="434.70" x2="432.20" y2="434.70" stroke="#c0127c" stroke-width="1.6" />
<line x1="434.40" y1="434.70" x2="438.10" y2="434.70" stroke="#c0127c" stroke-width="1.6" />
<line x1="440.30" y1="434.70" x2="443.20" y2="434.70" stroke="#c0127c" stroke-width="1.6" />
<path d="M436.20,432.20 L438.70,434.70 L436.20,437.20 L433.70,434.70Z" fill="#c0127c"/>
<text x="446.50" y="437.40" font-size="7.6" text-anchor="start" fill="#231f20" font-weight="normal" textLength="50.90" lengthAdjust="spacingAndGlyphs" stroke="#231f20" stroke-width="0.15" >BDD FVIII set 1</text>
<line x1="429.30" y1="442.70" x2="432.20" y2="442.70" stroke="#e0b5a6" stroke-width="1.6" />
<line x1="434.40" y1="442.70" x2="438.10" y2="442.70" stroke="#e0b5a6" stroke-width="1.6" />
<line x1="440.30" y1="442.70" x2="443.20" y2="442.70" stroke="#e0b5a6" stroke-width="1.6" />
<path d="M436.20,440.20 L438.70,442.70 L436.20,445.20 L433.70,442.70Z" fill="#e0b5a6"/>
<text x="446.50" y="445.40" font-size="7.6" text-anchor="start" fill="#231f20" font-weight="normal" textLength="51.20" lengthAdjust="spacingAndGlyphs" stroke="#231f20" stroke-width="0.15" >BDD FVIII set 2</text>
</g></svg>
</body></html>
